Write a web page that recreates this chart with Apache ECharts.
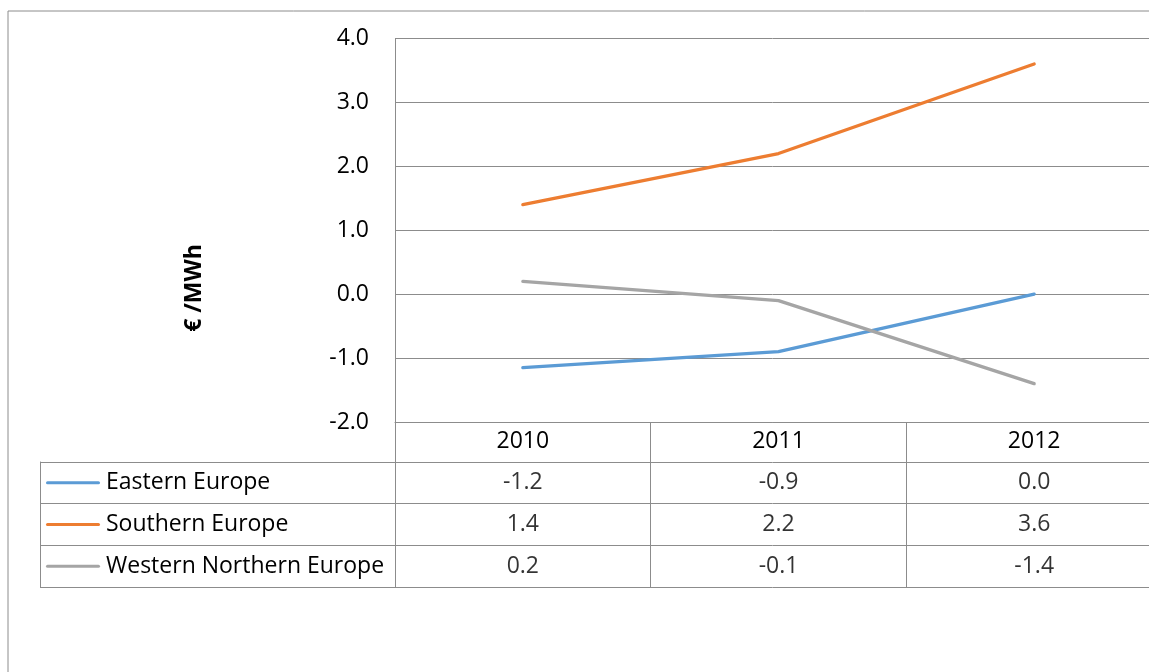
<!DOCTYPE html>
<html>
<head>
<meta charset="utf-8">
<script src="https://cdn.jsdelivr.net/npm/echarts@6/dist/echarts.min.js"></script>
<style>
  html, body { margin: 0; padding: 0; background: #fff; }
  #chart { width: 1149px; height: 672px; }
</style>
</head>
<body>
<div id="chart"></div>
<script>
// Price differences by region, €/MWh
const categories = ['2010', '2011', '2012'];
const seriesNames = ['Eastern Europe', 'Southern Europe', 'Western Northern Europe'];
const easternEurope = [-1.15, -0.9, 0.0];
const southernEurope = [1.4, 2.2, 3.6];
const westernNorthernEurope = [0.2, -0.1, -1.4];
const yTicks = { min: -2, max: 4, interval: 1 };
const axisTitle = '€ /MWh';

const seriesValues = [easternEurope, southernEurope, westernNorthernEurope];
const colors = ['#5B9BD5', '#ED7D31', '#A5A5A5'];
const lineGray = '#8c8c8c';
const font = "'Open Sans', 'Noto Sans', sans-serif";
const fontSize = 23;

// one decimal, halves rounded away from zero
function fmt(v) {
  const r = Math.sign(v) * Math.round(Math.abs(v) * 10 + 1e-9) / 10;
  return (r === 0 ? 0 : r).toFixed(1);
}

// rich styles for the legend keys in the data table
const rich = { t: { fontSize: fontSize, fontFamily: font, color: '#000', padding: [0, 0, 0, 6] } };
colors.forEach((c, i) => {
  rich['l' + i] = { width: 54, height: 3, backgroundColor: c, borderRadius: 1.5 };
});

// cells of the data table
const tableCells = [];
seriesNames.forEach((n, i) => {
  categories.forEach((c, j) => tableCells.push([c, n, seriesValues[i][j]]));
});

const chart = echarts.init(document.getElementById('chart'), null, { renderer: 'canvas' });

chart.setOption({
  animation: false,
  backgroundColor: '#fff',
  textStyle: { fontFamily: font },
  grid: [
    { left: 395, top: 38.5, width: 767, height: 383.5, outerBoundsMode: 'none', containLabel: false },
    { left: 395, top: 462, width: 767, height: 125, outerBoundsMode: 'none', containLabel: false }
  ],
  xAxis: [
    {
      type: 'category', gridIndex: 0, data: categories, boundaryGap: true,
      axisLine: { show: true, onZero: false, lineStyle: { color: lineGray, width: 1 } },
      axisTick: { show: true, alignWithLabel: false, interval: 0, length: 40, lineStyle: { color: lineGray, width: 1 } },
      axisLabel: { show: true, interval: 0, margin: 19, verticalAlign: 'middle', fontSize: fontSize, fontFamily: font, color: '#000' },
      splitLine: { show: false }
    },
    {
      type: 'category', gridIndex: 1, data: categories, boundaryGap: true,
      axisLine: { show: false }, axisTick: { show: false }, axisLabel: { show: false },
      splitLine: { show: true, interval: 0, lineStyle: { color: lineGray, width: 1 } }
    }
  ],
  yAxis: [
    {
      type: 'value', gridIndex: 0, min: yTicks.min, max: yTicks.max, interval: yTicks.interval,
      axisLine: { show: true, onZero: false, lineStyle: { color: lineGray, width: 1 } },
      axisTick: { show: false },
      axisLabel: { margin: 26, fontSize: fontSize, fontFamily: font, color: '#000', formatter: v => v.toFixed(1) },
      splitLine: { show: true, lineStyle: { color: lineGray, width: 1 } }
    },
    {
      type: 'category', gridIndex: 1, data: seriesNames, inverse: true, boundaryGap: true,
      axisLine: { show: true, onZero: false, lineStyle: { color: lineGray, width: 1 } },
      axisTick: { show: true, alignWithLabel: false, interval: 0, length: 355, lineStyle: { color: lineGray, width: 1 } },
      axisLabel: {
        show: true, interval: 0, align: 'left', margin: 349,
        formatter: v => '{l' + seriesNames.indexOf(v) + '|}{t|' + v + '}',
        rich: rich
      },
      splitLine: { show: true, interval: 0, lineStyle: { color: lineGray, width: 1 } }
    },
    {
      // left border of the table
      type: 'category', gridIndex: 1, data: seriesNames, position: 'left', offset: 355,
      axisLine: { show: true, onZero: false, lineStyle: { color: lineGray, width: 1 } },
      axisTick: { show: false }, axisLabel: { show: false }, splitLine: { show: false }
    }
  ],
  series: seriesNames.map((n, i) => ({
    name: n, type: 'line', xAxisIndex: 0, yAxisIndex: 0,
    data: seriesValues[i], symbol: 'none', smooth: false,
    lineStyle: { color: colors[i], width: 3.3, cap: 'round' },
    itemStyle: { color: colors[i] }
  })).concat([{
    name: 'table', type: 'scatter', xAxisIndex: 1, yAxisIndex: 1,
    data: tableCells, symbolSize: 0, silent: true,
    label: {
      show: true, position: 'inside', fontSize: fontSize, fontFamily: font, color: '#000',
      formatter: p => fmt(p.value[2])
    }
  }]),
  graphic: [
    {
      type: 'rect', silent: true,
      shape: { x: 8, y: 11, width: 1300, height: 800 },
      style: { fill: 'none', stroke: lineGray, lineWidth: 1 }
    },
    {
      type: 'text', silent: true, x: 194, y: 288, rotation: Math.PI / 2,
      style: {
        text: axisTitle, fontSize: fontSize, fontWeight: 'bold', fontFamily: font,
        fill: '#000', align: 'center', verticalAlign: 'middle'
      }
    }
  ]
});
</script>
</body>
</html>
